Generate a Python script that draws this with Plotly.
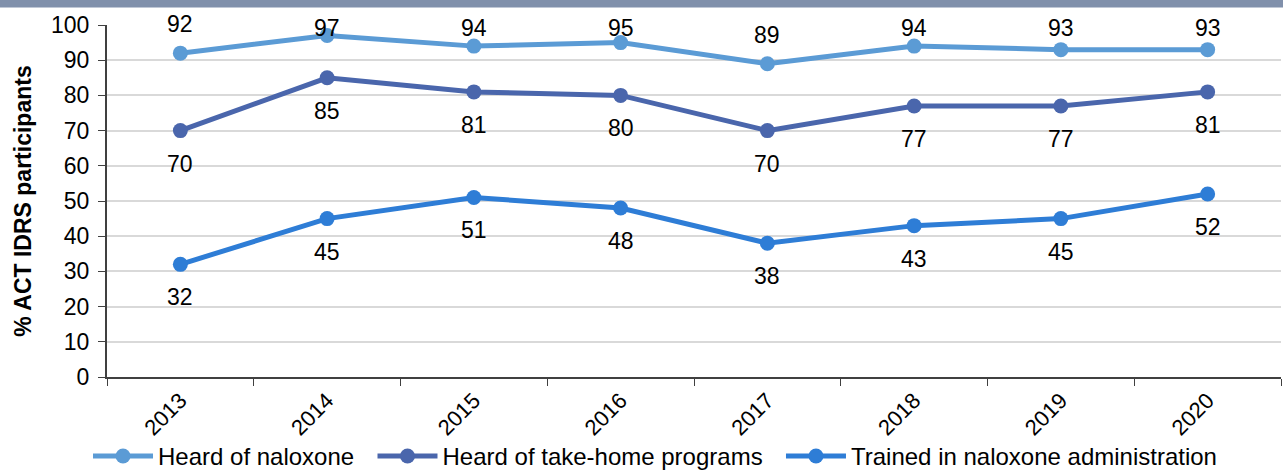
import plotly.graph_objects as go

years = ["2013", "2014", "2015", "2016", "2017", "2018", "2019", "2020"]
heard_naloxone = [92, 97, 94, 95, 89, 94, 93, 93]
heard_takehome = [70, 85, 81, 80, 70, 77, 77, 81]
trained_admin = [32, 45, 51, 48, 38, 43, 45, 52]

series = [
    ("Heard of naloxone", heard_naloxone, "#5B9BD5", "above"),
    ("Heard of take-home programs", heard_takehome, "#4A66AC", "below"),
    ("Trained in naloxone administration", trained_admin, "#2E7DD6", "below"),
]

font = "Liberation Sans, Arial, sans-serif"
nb = "\u00a0"

fig = go.Figure()
annotations = []
for name, vals, col, pos in series:
    fig.add_trace(go.Scatter(
        x=years, y=vals, name=name + nb * 2, mode="lines+markers",
        line=dict(color=col, width=5),
        marker=dict(color=col, size=15),
        cliponaxis=False,
    ))
    for i, v in enumerate(vals):
        if pos == "above":
            if v + 8 > 100:
                annotations.append(dict(x=i, y=100, text=str(v), yshift=-3))
            else:
                annotations.append(dict(x=i, y=v, text=str(v), yshift=29))
        else:
            annotations.append(dict(x=i, y=v, text=str(v), yshift=-33))

for a in annotations:
    a["showarrow"] = False
    a["xref"] = "x"
    a["yref"] = "y"
    a["font"] = dict(size=23, color="#000000", family=font)

# grey band across the top of the page
fig.add_shape(type="rect", xref="paper", yref="paper",
              x0=-0.2, x1=1.1, y0=1.05, y1=1.2,
              fillcolor="#8090AB", line_width=0, layer="below")

fig.update_layout(
    width=1283, height=471,
    margin=dict(l=107, r=2, t=25, b=94),
    plot_bgcolor="white", paper_bgcolor="white",
    font=dict(family=font, size=22, color="#000000"),
    showlegend=True,
    annotations=annotations,
    legend=dict(orientation="h", xref="container", x=0.0686, xanchor="left",
                yref="container", y=0.031, yanchor="middle",
                font=dict(size=24), itemwidth=60, tracegroupgap=0,
                bgcolor="rgba(0,0,0,0)"),
    xaxis=dict(
        type="category",
        tickangle=-45, showgrid=False, showline=True, linecolor="#404040", linewidth=2,
        ticks="outside", tickson="boundaries", ticklen=7, tickcolor="#404040",
        range=[-0.5, 7.5], tickfont=dict(size=22), automargin=False,
    ),
    yaxis=dict(
        range=[0, 100], dtick=10, showgrid=True, gridcolor="#D9D9D9", gridwidth=1.5,
        showline=True, linecolor="#404040", linewidth=2,
        ticks="outside", ticklen=7, tickcolor="#404040", tickfont=dict(size=23),
        ticklabelstandoff=4, zeroline=False, automargin=False,
        title=dict(text="<b>% ACT IDRS participants</b>", font=dict(size=23), standoff=13),
    ),
)

fig.write_html("out.html", config={"displayModeBar": False},
               post_script="document.body.style.margin='0';")
